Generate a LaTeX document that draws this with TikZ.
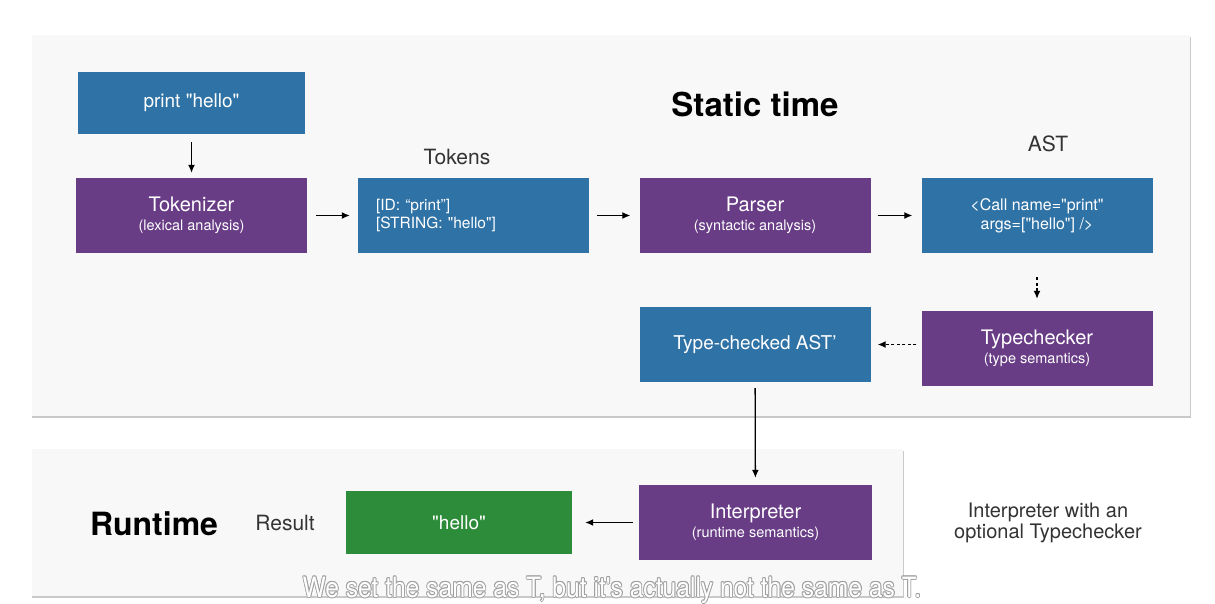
\documentclass[tikz,border=0pt]{standalone}
\usepackage{fontspec}
\usepackage{graphicx}
\newfontfamily\hv{TeX Gyre Heros}
\usetikzlibrary{arrows.meta}
\definecolor{cblue}{HTML}{2F72A6}
\definecolor{cpurple}{HTML}{683D86}
\definecolor{cgreen}{HTML}{2D8C3A}
\definecolor{panelfill}{HTML}{F8F8F8}
\definecolor{panelline}{HTML}{C9C9C9}
\definecolor{labelgray}{HTML}{333333}
\tikzset{
  boxbase/.style={draw=none, text=white, inner sep=0pt, align=center,
    minimum width=231, minimum height=75},
  bluebox/.style={boxbase, fill=cblue},
  purplebox/.style={boxbase, fill=cpurple},
  greenbox/.style={boxbase, fill=cgreen},
  stagebox/.style={font=\fontsize{20}{19}\selectfont},
  flow/.style={-{Latex[length=8pt,width=7pt]}, line width=1.3pt, black},
  dflow/.style={flow, dash pattern=on 3pt off 2.5pt},
  caption/.style={text=labelgray, inner sep=0pt},
  lbl/.style={font=\fontsize{21}{24}\selectfont},
}
\newcommand{\subline}[1]{{\fontsize{14.5}{16}\selectfont #1}}
\newcommand{\subtitletext}{We set the same as T, but it's actually not the same as T.}
\begin{document}
\begin{tikzpicture}[x=1pt,y=-1pt]
  \hv
  \useasboundingbox (0,0) rectangle (1215,604);
  \fill[white] (0,0) rectangle (1215,604);

  % background panels with a soft lower edge
  \fill[panelline] (32,37) rectangle (1191,418);
  \fill[panelfill] (32,35) rectangle (1190,416);
  \fill[panelline] (32,451) rectangle (904,598);
  \fill[panelfill] (32,449) rectangle (903,596);

  % titles and labels
  \node[font=\fontsize{33}{36}\selectfont\bfseries, inner sep=0pt] (stitle) at (755,104) {Static time};
  \node[font=\fontsize{32}{36}\selectfont\bfseries, inner sep=0pt] (rtitle) at (154,524) {Runtime};
  \node[caption, lbl] (lbltokens) at (457,157) {Tokens};
  \node[caption, lbl] (lblast) at (1048,144) {AST};
  \node[caption, lbl] (lblresult) at (285,523) {Result};
  \node[caption, align=center, font=\fontsize{20}{21.5}\selectfont] (note) at (1048,523)
    {Interpreter with an\\optional Typechecker};

  % stages
  \node[bluebox, minimum width=227, minimum height=62, font=\fontsize{19}{20}\selectfont] (src) at (191.5,103)
    {print "hello"};
  \node[purplebox, stagebox] (tokenizer) at (191.5,215.5) {Tokenizer\\\subline{(lexical analysis)}};
  \node[bluebox, align=left, font=\fontsize{15.5}{17.5}\selectfont, text width=195] (tokens) at (473.5,215.5)
    {[ID: “print”]\\\relax[STRING: "hello"]};
  \node[purplebox, stagebox] (parser) at (755,215.5) {Parser\\\subline{(syntactic analysis)}};
  \node[bluebox, font=\fontsize{16}{19}\selectfont] (ast) at (1037,215.5)
    {<Call name="print"\\\relax args=["hello"] />};
  \node[purplebox, stagebox] (typechecker) at (1037,348.5) {Typechecker\\\subline{(type semantics)}};
  \node[bluebox, font=\fontsize{19}{20}\selectfont] (tcast) at (755,344.5) {Type-checked AST’};
  \node[purplebox, stagebox, minimum width=233] (interp) at (755.5,522.5)
    {Interpreter\\\subline{(runtime semantics)}};
  \node[greenbox, minimum width=226, minimum height=63, font=\fontsize{19}{20}\selectfont] (result) at (459,522.5)
    {"hello"};

  % connectors
  \draw[flow, shorten <=8pt, shorten >=5pt] (src) -- (tokenizer);
  \draw[flow, shorten <=9pt, shorten >=8pt] (tokenizer) -- (tokens);
  \draw[flow, shorten <=8pt, shorten >=9pt] (tokens) -- (parser);
  \draw[flow, shorten <=7pt, shorten >=9pt] (parser) -- (ast);
  \draw[dflow, shorten <=24pt, shorten >=12pt] (ast) -- (typechecker);
  \draw[dflow, shorten <=5pt, shorten >=7pt] (typechecker.west |- tcast) -- (tcast);
  \draw[flow, shorten <=6pt, shorten >=7pt] (tcast) -- (interp);
  \draw[flow, shorten <=6pt, shorten >=13pt] (interp) -- (result);

  % subtitle overlay: white text with a grey halo
  \foreach \dx/\dy in {-0.9/0,0.9/0,0/-0.9,0/0.9,-0.65/-0.65,0.65/0.65,-0.65/0.65,0.65/-0.65}{
    \node[text=gray!75, font=\fontsize{28}{30}\selectfont, inner sep=0pt] at (612+\dx,590+\dy)
      {\scalebox{0.88}[1]{\subtitletext}};
  }
  \node[text=white, font=\fontsize{28}{30}\selectfont, inner sep=0pt] (subtitle) at (612,590)
    {\scalebox{0.88}[1]{\subtitletext}};
\end{tikzpicture}
\end{document}
